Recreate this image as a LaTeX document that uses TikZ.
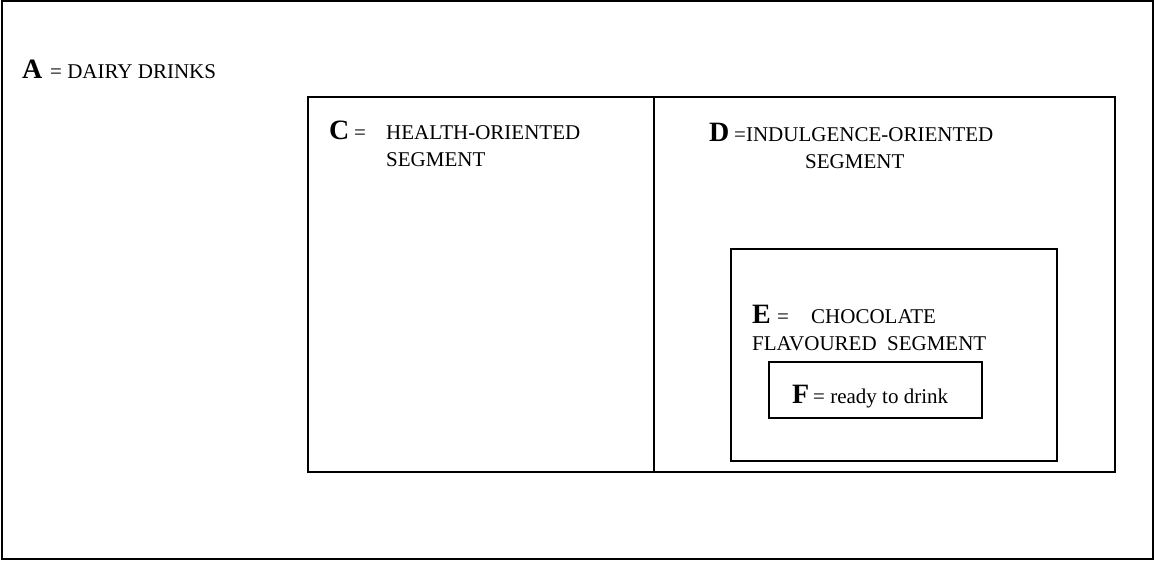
\documentclass[tikz,border=0pt]{standalone}
\usepackage{fontspec}
\setmainfont{Liberation Serif}
\tikzset{
  setbox/.style={line width=1.6pt},
  lbl/.style={anchor=base west,inner sep=0pt,font=\fontsize{21}{24}\selectfont},
  setlet/.style={lbl,font=\fontsize{28}{28}\selectfont\bfseries}
}
\begin{document}
\begin{tikzpicture}[x=1pt,y=-1pt]
  \useasboundingbox (0,0) rectangle (1156,561);
  % sets
  \draw[setbox] (2,1) rectangle (1153,559);
  \draw[setbox] (308,97) rectangle (1115,472);
  \draw[setbox] (654,97) -- (654,472);
  \draw[setbox] (731,249) rectangle (1057,461);
  \draw[setbox] (769,362) rectangle (982,418);

  % A
  \node[setlet] (la) at (22,79) {A};
  \node[lbl] (ta) at (50,79) {= DAIRY DRINKS};
  % C
  \node[setlet] (lc) at (329,140) {C};
  \node[lbl] (ec) at (354,140) {=};
  \node[lbl] (tc) at (386,140) {HEALTH-ORIENTED};
  \node[lbl] (tc2) at (386,167) {SEGMENT};
  % D
  \node[setlet] (ld) at (709,142) {D};
  \node[lbl] (td) at (734,142) {=INDULGENCE-ORIENTED};
  \node[lbl] (td2) at (805,169) {SEGMENT};
  % E
  \node[setlet] (le) at (752,323) {E};
  \node[lbl] (ee) at (777,323) {=};
  \node[lbl] (te) at (811,323) {CHOCOLATE};
  \node[lbl] (te2) at (752,350) {FLAVOURED\ \ SEGMENT};
  % F
  \node[setlet] (lf) at (792,403) {F};
  \node[lbl] (tf) at (813,403) {= ready to drink};

\end{tikzpicture}
\end{document}
